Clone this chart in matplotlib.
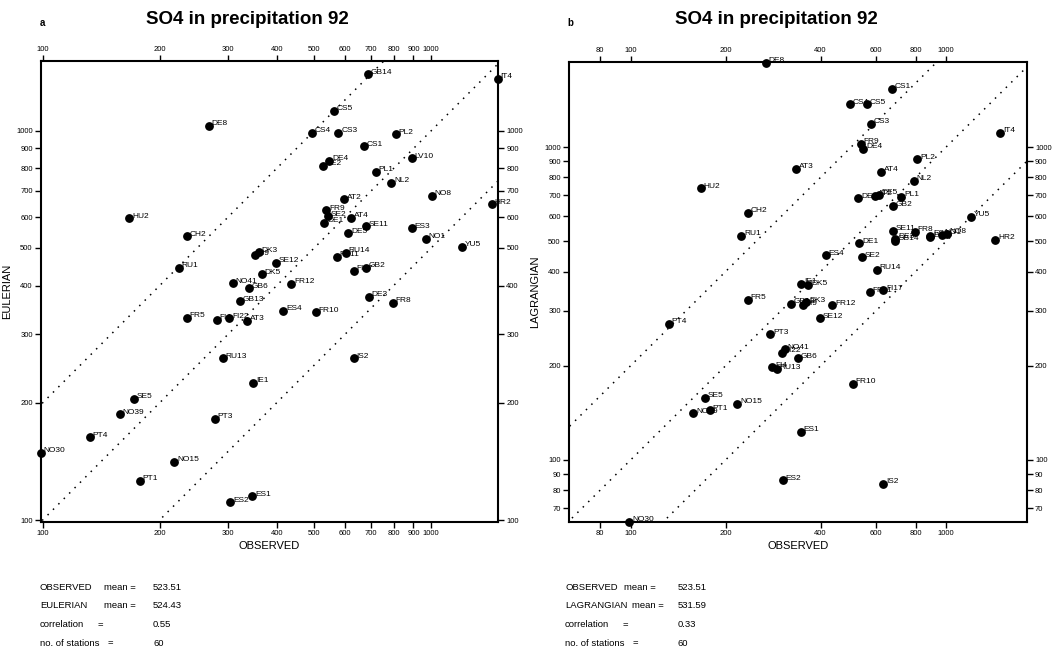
import matplotlib
matplotlib.use('Agg')
import matplotlib.pyplot as plt

plt.rcParams['font.family'] = ['Liberation Sans', 'DejaVu Sans']

# Stations, observed and modelled SO4 in precipitation 1992
stations = ['DE8', 'HU2', 'CH2', 'RU1', 'FI9', 'DK3', 'DK5', 'GB14', 'IT4', 'CS5',
            'CS4', 'CS3', 'PL2', 'CS1', 'LV10', 'DE4', 'DE2', 'PL1', 'NL2', 'NO8',
            'AT2', 'HR2', 'FR9', 'SE2', 'AT4', 'DE1', 'SE11', 'ES3', 'DE5', 'NO1',
            'YU5', 'RU14', 'FR11', 'SE12', 'FI17', 'GB2', 'NO41', 'GB6', 'GB13', 'FR5',
            'FI4', 'FI22', 'AT3', 'RU13', 'IE1', 'SE5', 'NO39', 'PT3', 'PT4', 'NO30',
            'NO15', 'PT1', 'ES1', 'ES2', 'FR12', 'DE3', 'FR8', 'ES4', 'FR10', 'IS2']
observed = [268, 167, 235, 224, 351, 360, 366, 687, 1484, 561,
            494, 577, 811, 672, 892, 547, 526, 721, 789, 1004,
            597, 1432, 537, 541, 621, 531, 679, 892, 612, 967,
            1202, 602, 572, 398, 632, 680, 308, 340, 322, 235,
            281, 302, 335, 291, 348, 172, 158, 277, 132, 99,
            218, 178, 346, 304, 436, 690, 796, 416, 505, 631]
eulerian = [1030, 595, 535, 445, 478, 487, 428, 1395, 1358, 1126,
            986, 986, 979, 911, 849, 836, 813, 785, 734, 681,
            667, 647, 624, 602, 597, 579, 568, 562, 545, 528,
            503, 485, 474, 458, 437, 444, 406, 394, 365, 331,
            327, 330, 325, 260, 225, 205, 187, 182, 163, 149,
            141, 126, 115, 111, 404, 374, 361, 345, 342, 260]
lagrangian = [1856, 739, 617, 521, 312, 319, 361, 502, 1110, 1368,
              1368, 1184, 915, 1534, 514, 988, 686, 693, 779, 527,
              698, 505, 1022, 444, 832, 493, 540, 521, 705, 524,
              599, 406, 343, 284, 348, 646, 226, 211, 315, 325,
              198, 220, 853, 195, 365, 158, 141, 252, 272, 63.5,
              151, 144, 123, 86, 312, 508, 537, 451, 175, 84]

ticks_a = [100, 200, 300, 400, 500, 600, 700, 800, 900, 1000]
xticks_b = [80, 100, 200, 400, 600, 800, 1000]
yticks_b = [70, 80, 90, 100, 200, 300, 400, 500, 600, 700, 800, 900, 1000]

stats_a = [('OBSERVED', 'mean =', '523.51'), ('EULERIAN', 'mean =', '524.43'),
           ('correlation', '=', '0.55'), ('no. of stations', '=', '60')]
stats_b = [('OBSERVED', 'mean =', '523.51'), ('LAGRANGIAN', 'mean =', '531.59'),
           ('correlation', '=', '0.33'), ('no. of stations', '=', '60')]

W, H = 1053, 657
fig = plt.figure(figsize=(W / 100, H / 100), dpi=100)


def panel(rect, model, ylabel, xlim, ylim, xticks, yticks):
    ax = fig.add_axes(rect)
    ax.set_xscale('log')
    ax.set_yscale('log')
    ax.set_xlim(*xlim)
    ax.set_ylim(*ylim)
    # 1:1 and factor-2 lines
    lo, hi = min(xlim[0], ylim[0]) / 3, max(xlim[1], ylim[1]) * 3
    for f in (1, 2, 0.5):
        ax.plot([lo, hi], [lo * f, hi * f], color='black', lw=1.1,
                linestyle=(0, (1, 4)))
    ax.plot(observed, model, 'o', color='black', ms=5.3, clip_on=False, zorder=3)
    for name, xo, ym in zip(stations, observed, model):
        ax.annotate(name, (xo, ym), xytext=(2, 1.5), textcoords='offset points',
                    fontsize=6, va='center', ha='left', annotation_clip=False)
    ax.set_xticks(xticks)
    ax.set_xticklabels([str(t) for t in xticks])
    ax.set_yticks(yticks)
    ax.set_yticklabels([str(t) for t in yticks])
    ax.minorticks_off()
    ax.tick_params(which='both', direction='out', length=4, width=1,
                   labelsize=5.5, pad=2, top=True, right=True,
                   labeltop=True, labelright=True)
    for s in ax.spines.values():
        s.set_linewidth(1.5)
    ax.set_xlabel('OBSERVED', fontsize=8, labelpad=3)
    ax.set_ylabel(ylabel, fontsize=8, labelpad=3)
    return ax


ax_a = panel([41 / W, 1 - 521.7 / H, 457 / W, 460.7 / H], eulerian, 'EULERIAN',
             (99, 1485), (99, 1510), ticks_a, ticks_a)
ax_b = panel([569 / W, 1 - 521.7 / H, 457.7 / W, 459.4 / H], lagrangian, 'LAGRANGIAN',
             (63.8, 1800), (63.5, 1865), xticks_b, yticks_b)

for x_title, x_letter, letter in ((247, 40, 'a'), (776, 567, 'b')):
    fig.text(x_title / W, 1 - 20 / H, 'SO4 in precipitation 92', fontsize=13.5,
             fontweight='bold', ha='center', va='center')
    fig.text(x_letter / W, 1 - 23 / H, letter, fontsize=7, fontweight='bold',
             ha='left', va='center')

for x0, stats, mid_dx in ((40, stats_a, (64, 64, 58, 68)), (565, stats_b, (59, 67, 58, 68))):
    for i, (lab, mid, val) in enumerate(stats):
        y = 1 - (587 + i * 18.7) / H
        fig.text(x0 / W, y, lab, fontsize=6.8, va='center')
        fig.text((x0 + mid_dx[i]) / W, y, mid, fontsize=6.8, va='center')
        fig.text((x0 + 113) / W, y, val, fontsize=6.8, va='center')

fig.savefig('out.png', dpi=100)
